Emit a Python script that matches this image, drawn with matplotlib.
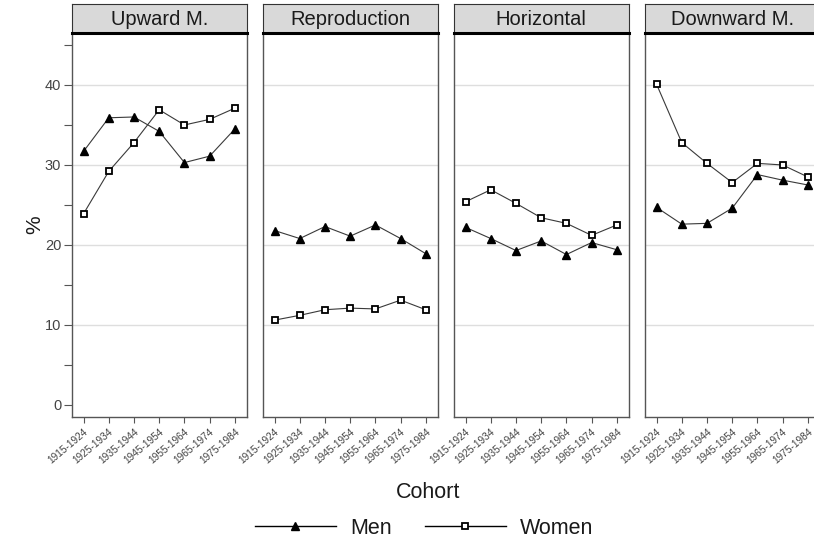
import matplotlib.pyplot as plt
from matplotlib.lines import Line2D

plt.rcParams['font.family'] = ['Liberation Sans', 'DejaVu Sans']

cohorts = ['1915-1924', '1925-1934', '1935-1944', '1945-1954',
           '1955-1964', '1965-1974', '1975-1984']
panels = ['Upward M.', 'Reproduction', 'Horizontal', 'Downward M.']

men = {
    'Upward M.':    [31.7, 35.9, 36.0, 34.2, 30.3, 31.1, 34.5],
    'Reproduction': [21.8, 20.8, 22.3, 21.1, 22.5, 20.8, 18.9],
    'Horizontal':   [22.2, 20.8, 19.3, 20.5, 18.8, 20.3, 19.4],
    'Downward M.':  [24.7, 22.6, 22.7, 24.6, 28.8, 28.1, 27.5],
}
women = {
    'Upward M.':    [23.9, 29.2, 32.8, 36.9, 35.0, 35.7, 37.1],
    'Reproduction': [10.6, 11.2, 11.9, 12.1, 12.0, 13.1, 11.9],
    'Horizontal':   [25.4, 26.9, 25.2, 23.4, 22.7, 21.2, 22.5],
    'Downward M.':  [40.1, 32.8, 30.2, 27.8, 30.2, 30.0, 28.5],
}

W, H = 814, 545
fig = plt.figure(figsize=(W / 100, H / 100), dpi=100)

line_col = '#3a3a3a'
tick_col = '#444444'
x = list(range(len(cohorts)))

p_left0, p_w, p_gap = 71.7, 175.0, 16.0
p_top, p_bot = 33.0, 417.3
s_top = 4.0

for i, name in enumerate(panels):
    left = p_left0 + i * (p_w + p_gap)
    ax = fig.add_axes([left / W, 1 - p_bot / H, p_w / W, (p_bot - p_top) / H])
    ax.plot(x, men[name], color=line_col, lw=0.8, marker='^', ms=6,
            mfc='black', mec='black', zorder=3)
    ax.plot(x, women[name], color=line_col, lw=0.8, marker='s', ms=4.5,
            mfc='white', mec='black', mew=1.3, zorder=3)
    ax.set_xlim(-0.47, 6.47)
    ax.set_ylim(-1.55, 46.5)
    for g in [10, 20, 30, 40]:
        ax.axhline(g, color='#dedede', lw=1.0, zorder=1)
    for sp in ax.spines.values():
        sp.set_color('#555555')
        sp.set_linewidth(1.0)
    ax.set_xticks(x)
    ax.set_xticklabels(cohorts, rotation=40, ha='right', va='top',
                       rotation_mode='anchor', fontsize=7.3, color=tick_col)
    ax.tick_params(axis='x', length=4.5, width=0.8, color='#555555', pad=2)
    if i == 0:
        ax.set_yticks([0, 10, 20, 30, 40])
        ax.set_yticks([5, 15, 25, 35, 45], minor=True)
        ax.tick_params(axis='y', which='major', length=5.5, width=0.8,
                       color='#555555', labelsize=10.5, labelcolor=tick_col, pad=2)
        ax.tick_params(axis='y', which='minor', length=5.5, width=0.8,
                       color='#555555')
    else:
        ax.set_yticks([])
        ax.set_yticks([], minor=True)

    # facet strip on top of each panel
    sx = fig.add_axes([left / W, 1 - p_top / H, p_w / W, (p_top - s_top) / H])
    sx.set_facecolor('#d9d9d9')
    sx.set_xticks([])
    sx.set_yticks([])
    for sp in sx.spines.values():
        sp.set_color('#333333')
        sp.set_linewidth(0.8)
    sx.spines['bottom'].set_color('black')
    sx.spines['bottom'].set_linewidth(2.2)
    sx.text(0.5, 0.48, name, ha='center', va='center', fontsize=14.5,
            color='#1a1a1a', transform=sx.transAxes)

fig.text(35 / W, 1 - 225 / H, '%', rotation=90, ha='center', va='center',
         fontsize=15, color='#1a1a1a')
fig.text(428 / W, 1 - 492 / H, 'Cohort', ha='center', va='center',
         fontsize=15.5, color='#1a1a1a')

handles = [
    Line2D([], [], color='black', lw=1.0, marker='^', ms=5.5, mfc='black', mec='black'),
    Line2D([], [], color='black', lw=1.0, marker='s', ms=4.5, mfc='white',
           mec='black', mew=1.3),
]
leg = fig.legend(handles, ['Men', 'Women'], loc='center', ncol=2,
                 bbox_to_anchor=(424 / W, 1 - 528 / H), frameon=False,
                 fontsize=15.5, handlelength=3.75, handletextpad=0.65,
                 columnspacing=1.55)
for t in leg.get_texts():
    t.set_color('#1a1a1a')

fig.savefig('out.png', dpi=100)
